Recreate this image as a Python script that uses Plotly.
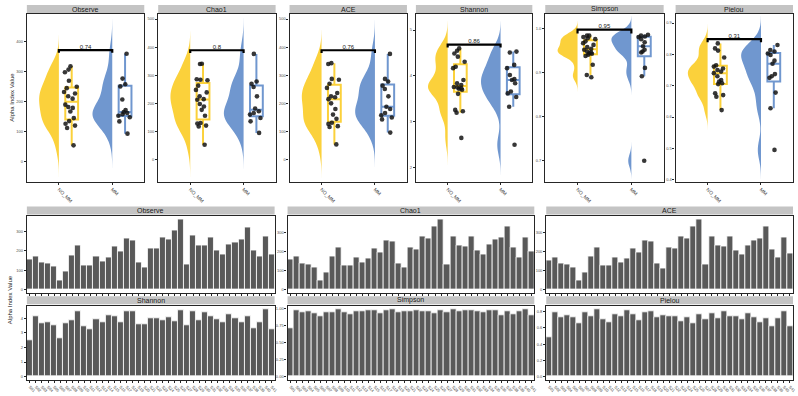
import numpy as np
import plotly.graph_objects as go

W, H = 798, 396
FONT = "Liberation Sans, Arial, sans-serif"

metrics = ["Observe", "Chao1", "ACE", "Shannon", "Simpson", "Pielou"]
groups = ["NO_MM", "MM"]
p_values = ["0.74", "0.8", "0.76", "0.86", "0.95", "0.31"]

# ---- per-group alpha diversity values (top row) ----
observe_no_mm = [54, 112, 120, 126, 135, 145, 167, 179, 182, 190, 210, 218, 227, 232, 245, 250, 270, 298, 307, 318]
observe_mm = [93, 134, 148, 153, 158, 162, 165, 172, 207, 251, 258, 277, 360]
chao1_no_mm = [53, 118, 121, 128, 130, 156, 177, 189, 198, 213, 215, 225, 239, 248, 263, 282, 284, 286, 340, 341]
chao1_mm = [95, 136, 148, 160, 166, 172, 182, 225, 258, 270, 278, 376]
ace_no_mm = [54, 116, 119, 127, 131, 145, 160, 180, 200, 215, 222, 225, 237, 255, 270, 284, 287, 340, 343]
ace_mm = [96, 143, 150, 158, 166, 180, 188, 225, 251, 263, 278, 287, 376]
shannon_no_mm = [2.65, 3.20, 3.23, 3.26, 3.61, 3.70, 3.72, 3.73, 3.75, 3.76, 3.80, 3.84, 3.91, 4.17, 4.20, 4.31, 4.42, 4.49, 4.55, 4.60]
shannon_mm = [2.50, 3.33, 3.54, 3.62, 3.66, 3.84, 3.91, 3.93, 4.02, 4.17, 4.24, 4.51, 4.53]
simpson_no_mm = [0.889, 0.894, 0.917, 0.937, 0.940, 0.942, 0.943, 0.945, 0.947, 0.951, 0.953, 0.957, 0.962, 0.966, 0.970, 0.975, 0.977, 0.980, 0.983, 0.983]
simpson_mm = [0.700, 0.891, 0.910, 0.945, 0.947, 0.951, 0.959, 0.968, 0.975, 0.980, 0.981, 0.983, 0.985]
pielou_no_mm = [0.622, 0.665, 0.670, 0.676, 0.705, 0.708, 0.713, 0.718, 0.730, 0.740, 0.745, 0.750, 0.755, 0.761, 0.765, 0.790, 0.812, 0.819, 0.835]
pielou_mm = [0.495, 0.628, 0.678, 0.725, 0.730, 0.737, 0.770, 0.780, 0.798, 0.803, 0.809, 0.814, 0.830]

group_values = {
    "Observe": (observe_no_mm, observe_mm),
    "Chao1": (chao1_no_mm, chao1_mm),
    "ACE": (ace_no_mm, ace_mm),
    "Shannon": (shannon_no_mm, shannon_mm),
    "Simpson": (simpson_no_mm, simpson_mm),
    "Pielou": (pielou_no_mm, pielou_mm),
}

# ---- per-sample values (bottom bars) ----
sample_names = ["S01", "S02", "S03", "S04", "S05", "S06", "S07", "S08", "S09", "S10",
                "S11", "S12", "S13", "S14", "S15", "S16", "S17", "S18", "S19", "S20",
                "S21", "S22", "S23", "S24", "S25", "S26", "S27", "S28", "S29", "S30",
                "S31", "S32", "S33", "S34", "S35", "S36", "S37", "S38", "S39", "S40", "S41"]
bar_observe = [155, 170, 138, 133, 120, 50, 95, 175, 225, 125, 125, 172, 143, 165, 220, 198, 265, 252, 140, 113,
               213, 210, 270, 258, 305, 358, 130, 280, 225, 225, 270, 202, 182, 230, 245, 260, 318, 202, 170, 272, 183]
bar_chao1 = [158, 174, 139, 132, 119, 51, 91, 175, 221, 128, 128, 170, 142, 163, 218, 196, 261, 254, 139, 116,
             221, 214, 281, 272, 333, 368, 133, 281, 232, 230, 279, 209, 186, 239, 267, 274, 335, 225, 170, 277, 202]
bar_ace = [156, 170, 139, 132, 119, 51, 91, 175, 221, 128, 128, 170, 142, 163, 218, 196, 261, 256, 139, 112,
           221, 216, 282, 272, 335, 368, 133, 282, 233, 230, 279, 205, 184, 233, 261, 268, 332, 212, 170, 275, 193]
bar_shannon = [2.48, 4.11, 3.65, 3.72, 3.50, 2.63, 3.65, 3.89, 4.50, 3.43, 3.26, 3.96, 3.72, 4.22, 4.15, 3.72, 4.48, 4.48, 3.61, 3.57,
               4.02, 4.02, 3.83, 4.09, 3.80, 4.54, 3.50, 4.46, 3.89, 4.39, 4.17, 3.96, 3.72, 4.30, 4.02, 3.72, 4.17, 3.33, 3.72, 4.59, 3.22]
bar_simpson = [0.706, 0.977, 0.949, 0.963, 0.939, 0.893, 0.949, 0.953, 0.986, 0.949, 0.916, 0.963, 0.958, 0.977, 0.977, 0.939, 0.977, 0.986, 0.949, 0.963,
               0.967, 0.972, 0.958, 0.963, 0.930, 0.977, 0.949, 0.986, 0.963, 0.977, 0.972, 0.967, 0.949, 0.977, 0.972, 0.907, 0.963, 0.916, 0.958, 0.986, 0.902]
bar_pielou = [0.490, 0.796, 0.737, 0.757, 0.729, 0.663, 0.796, 0.749, 0.827, 0.706, 0.671, 0.765, 0.741, 0.820, 0.769, 0.698, 0.796, 0.808, 0.729, 0.757,
              0.749, 0.749, 0.682, 0.729, 0.663, 0.765, 0.710, 0.788, 0.718, 0.804, 0.741, 0.741, 0.710, 0.784, 0.729, 0.671, 0.722, 0.620, 0.722, 0.812, 0.616]

bar_values = {"Observe": bar_observe, "Chao1": bar_chao1, "ACE": bar_ace,
              "Shannon": bar_shannon, "Simpson": bar_simpson, "Pielou": bar_pielou}

# ---- axis settings (layout) ----
top_ranges = {"Observe": [-67, 493], "Chao1": [-78, 518], "ACE": [-78, 518],
              "Shannon": [1.70, 5.35], "Simpson": [0.653, 1.032], "Pielou": [0.394, 0.929]}
top_ticks = {"Observe": [0, 100, 200, 300, 400], "Chao1": [0, 100, 200, 300, 400, 500],
             "ACE": [0, 100, 200, 300, 400, 500], "Shannon": [2, 3, 4, 5],
             "Simpson": [0.7, 0.8, 0.9, 1.0], "Pielou": [0.4, 0.5, 0.6, 0.7, 0.8, 0.9]}
top_fmt = {"Observe": "d", "Chao1": "d", "ACE": "d", "Shannon": "d", "Simpson": ".1f", "Pielou": ".1f"}
bot_ticks = {"Observe": [0, 100, 200, 300], "Chao1": [0, 100, 200, 300], "ACE": [0, 100, 200, 300],
             "Shannon": [0, 1, 2, 3, 4], "Simpson": [0, 0.25, 0.5, 0.75, 1.0], "Pielou": [0, 0.2, 0.4, 0.6, 0.8]}
bot_fmt = {"Observe": "d", "Chao1": "d", "ACE": "d", "Shannon": "d", "Simpson": ".2f", "Pielou": ".1f"}

COLORS = ["#FBD13B", "#7097CF"]
BAR_COLOR = "#595959"
STRIP = "#C4C4C4"
FRAME = "#262626"

# panel pixel boxes
top_x = [(27, 145), (159, 277), (291, 409), (418, 535), (548, 667), (679, 797)]
top_y = (14, 182)
top_strip = (5, 14)
bot_x = [(27, 276), (289, 537), (549, 797)]
bot_rows = [((217, 294), (207, 215)), ((307, 381), (297, 305))]


def xd(a, b):
    return [a / W, b / W]


def yd(top, bottom):
    return [1 - bottom / H, 1 - top / H]


def nrd0(v):
    v = np.asarray(v, dtype=float)
    sd = v.std(ddof=1)
    q75, q25 = np.percentile(v, [75, 25])
    lo = min(sd, (q75 - q25) / 1.34)
    return 0.9 * lo * len(v) ** -0.2


fig = go.Figure()
layout = dict(width=W, height=H, margin=dict(l=0, r=0, t=0, b=0),
              paper_bgcolor="white", plot_bgcolor="white", showlegend=False,
              font=dict(family=FONT, color="#333333"))
shapes = []
annotations = []

BOX_OFF = 0.24

for i, m in enumerate(metrics):
    k = i + 1
    xa, ya = f"x{k}", f"y{k}"
    vals_pair = group_values[m]
    for g, vals in enumerate(vals_pair):
        pos = g + 1
        col = COLORS[g]
        bw = nrd0(vals)
        fig.add_trace(go.Violin(
            x=[pos] * len(vals), y=vals, xaxis=xa, yaxis=ya, side="negative",
            width=0.74, points=False, fillcolor=col, line=dict(color=col, width=0),
            opacity=1, bandwidth=bw, spanmode="manual",
            span=[min(vals) - 3 * bw, max(vals) + 3 * bw],
            box_visible=False, meanline_visible=False, scalemode="width",
            hoverinfo="skip", name=groups[g]))
        fig.add_trace(go.Box(
            x=[pos + BOX_OFF] * len(vals), y=vals, xaxis=xa, yaxis=ya, width=0.24,
            boxpoints="outliers", marker=dict(opacity=0, size=1),
            line=dict(color=col, width=2), fillcolor="white", whiskerwidth=0,
            hoverinfo="skip", name=groups[g]))
        fig.add_trace(go.Box(
            x=[pos + BOX_OFF - 0.02] * len(vals), y=vals, xaxis=xa, yaxis=ya, width=0.28,
            boxpoints="all", jitter=1, pointpos=0,
            marker=dict(color="rgba(20,20,20,0.85)", size=4.6),
            line=dict(color="rgba(0,0,0,0)", width=0), fillcolor="rgba(0,0,0,0)",
            hoverinfo="skip", name=groups[g]))
    allv = list(vals_pair[0]) + list(vals_pair[1])
    span = max(allv) - min(allv)
    yb = max(allv) + 0.04 * span
    tick = 0.03 * span
    fig.add_trace(go.Scatter(x=[1, 1, 2, 2], y=[yb - tick, yb, yb, yb - tick], xaxis=xa, yaxis=ya,
                             mode="lines", line=dict(color="black", width=2.2), hoverinfo="skip"))
    fig.add_trace(go.Scatter(x=[1.5], y=[yb], xaxis=xa, yaxis=ya, mode="text", text=[p_values[i]],
                             textposition="top center", textfont=dict(size=6, color="#222222"),
                             hoverinfo="skip"))
    x0, x1 = top_x[i]
    layout[f"xaxis{k}"] = dict(domain=xd(x0, x1), anchor=ya, range=[0.4, 2.6],
                               tickmode="array", tickvals=[1, 2], ticktext=groups, tickangle=45,
                               tickfont=dict(size=5, color="#4D4D4D"), ticks="outside", ticklen=2,
                               tickcolor=FRAME, showgrid=False, zeroline=False,
                               showline=True, mirror=True, linecolor=FRAME, linewidth=1.2)
    layout[f"yaxis{k}"] = dict(domain=yd(*top_y), anchor=xa, range=top_ranges[m],
                               tickmode="array", tickvals=top_ticks[m], tickformat=top_fmt[m],
                               tickfont=dict(size=4, color="#4D4D4D"), ticks="outside", ticklen=2,
                               tickcolor=FRAME, showgrid=False, zeroline=False,
                               showline=True, mirror=True, linecolor=FRAME, linewidth=1.2)
    shapes.append(dict(type="rect", xref="paper", yref="paper",
                       x0=x0 / W, x1=x1 / W, y0=1 - top_strip[1] / H, y1=1 - top_strip[0] / H,
                       fillcolor=STRIP, line=dict(width=0), layer="below"))
    annotations.append(dict(text=m, xref="paper", yref="paper", x=(x0 + x1) / 2 / W,
                            y=1 - (top_strip[0] + top_strip[1]) / 2 / H, showarrow=False,
                            font=dict(size=7, color="#1A1A1A"), xanchor="center", yanchor="middle"))

# bottom bar panels
for i, m in enumerate(metrics):
    k = i + 7
    xa, ya = f"x{k}", f"y{k}"
    vals = bar_values[m]
    fig.add_trace(go.Bar(x=sample_names, y=vals, xaxis=xa, yaxis=ya,
                         marker=dict(color=BAR_COLOR, line=dict(color="white", width=0.8)),
                         hoverinfo="skip"))
    row = i // 3
    col = i % 3
    x0, x1 = bot_x[col]
    (pt, pb), (st, sb) = bot_rows[row]
    vmax = max(vals)
    layout[f"xaxis{k}"] = dict(domain=xd(x0, x1), anchor=ya, type="category",
                               tickmode="linear", dtick=1, tickangle=45,
                               showticklabels=(row == 1),
                               tickfont=dict(size=4, color="#4D4D4D"), ticks="outside", ticklen=2,
                               tickcolor=FRAME, showgrid=False, zeroline=False,
                               showline=True, mirror=True, linecolor=FRAME, linewidth=1.2)
    layout[f"yaxis{k}"] = dict(domain=yd(pt, pb), anchor=xa, range=[-0.05 * vmax, 1.05 * vmax],
                               tickmode="array", tickvals=bot_ticks[m], tickformat=bot_fmt[m],
                               tickfont=dict(size=4, color="#4D4D4D"), ticks="outside", ticklen=2,
                               tickcolor=FRAME, showgrid=False, zeroline=False,
                               showline=True, mirror=True, linecolor=FRAME, linewidth=1.2)
    shapes.append(dict(type="rect", xref="paper", yref="paper",
                       x0=x0 / W, x1=x1 / W, y0=1 - sb / H, y1=1 - st / H,
                       fillcolor=STRIP, line=dict(width=0), layer="below"))
    annotations.append(dict(text=m, xref="paper", yref="paper", x=(x0 + x1) / 2 / W,
                            y=1 - (st + sb) / 2 / H, showarrow=False,
                            font=dict(size=7, color="#1A1A1A"), xanchor="center", yanchor="middle"))

annotations.append(dict(text="Alpha Index Value", xref="paper", yref="paper", x=12 / W, y=1 - 97 / H,
                        textangle=-90, showarrow=False, font=dict(size=6, color="#1A1A1A"),
                        xanchor="center", yanchor="middle"))
annotations.append(dict(text="Alpha Index Value", xref="paper", yref="paper", x=10 / W, y=1 - 300 / H,
                        textangle=-90, showarrow=False, font=dict(size=6, color="#1A1A1A"),
                        xanchor="center", yanchor="middle"))

layout["shapes"] = shapes
layout["annotations"] = annotations
layout["bargap"] = 0
layout["boxmode"] = "overlay"
layout["violinmode"] = "overlay"
fig.update_layout(**layout)
fig.write_html("out.html")
